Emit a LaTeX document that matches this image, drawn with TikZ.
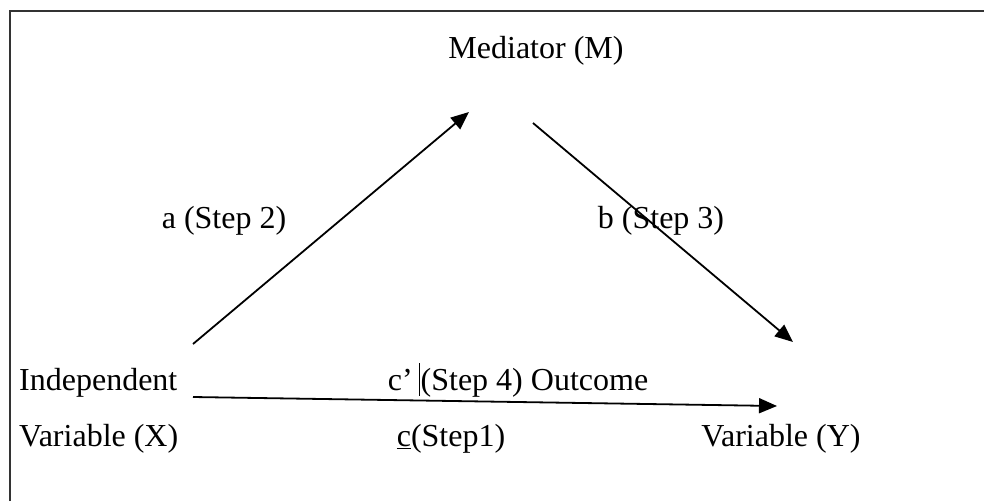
\documentclass[tikz,border=0pt]{standalone}
\usepackage{fontspec}
\setmainfont{Liberation Serif}
\usetikzlibrary{arrows.meta}
\begin{document}
\begin{tikzpicture}[x=1pt,y=-1pt,
  lbl/.style={inner sep=0pt, font=\fontsize{32}{38}\selectfont},
  conn/.style={line width=1.8pt, -{Triangle[length=18pt,width=15pt]}}]
\useasboundingbox (0,0) rectangle (984,501);
\draw[line width=2.4pt, color=black!80] (10,501) -- (10,11) -- (984,11);
\node[lbl, anchor=base] (m) at (536,58) {Mediator (M)};
\node[lbl, anchor=base] (a) at (224,228) {a (Step 2)};
\node[lbl, anchor=base] (b) at (661,228) {b (Step 3)};
\node[lbl, anchor=base west] (x1) at (19,390) {Independent};
\node[lbl, anchor=base west] (x2) at (19,446) {Variable (X)};
\node[lbl, anchor=base] (c4) at (518,390) {c’ (Step 4) Outcome};
\node[lbl, anchor=base] (c1) at (451,446) {\underline{c}(Step1)};
\node[lbl, anchor=base] (y2) at (781,446) {Variable (Y)};
\coordinate (as) at (193,344);
\coordinate (ae) at (469,112);
\coordinate (bs) at (533,123);
\coordinate (be) at (793,342);
\coordinate (cs) at (193,397);
\coordinate (ce) at (777,406);
\coordinate (k1) at (419,363);
\coordinate (k2) at (419,396);
\draw[conn] (as) -- (ae);
\draw[conn] (bs) -- (be);
\draw[conn] (cs) -- (ce);
\draw[line width=0.8pt] (k1) -- (k2);
\end{tikzpicture}
\end{document}
